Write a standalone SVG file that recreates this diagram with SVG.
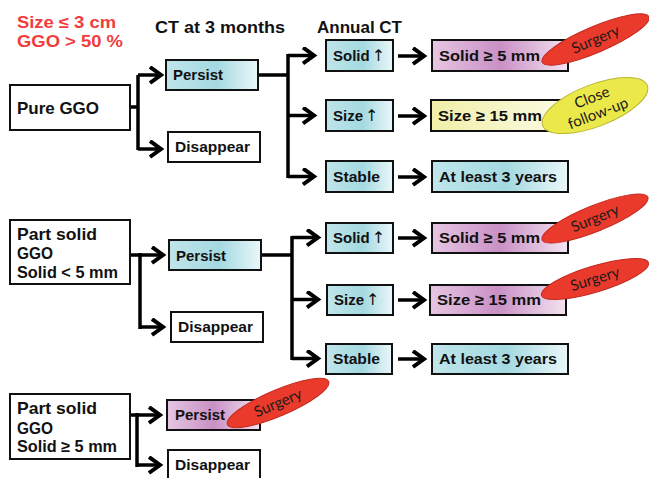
<svg xmlns="http://www.w3.org/2000/svg" width="649" height="478" viewBox="0 0 649 478">
<defs>
<linearGradient id="gc" x1="0" y1="0" x2="1" y2="0">
<stop offset="0" stop-color="#bfe5ea"/><stop offset="0.55" stop-color="#a4d9e1"/><stop offset="1" stop-color="#eaf7f9"/>
</linearGradient>
<linearGradient id="gp" x1="0" y1="0" x2="1" y2="0">
<stop offset="0" stop-color="#e6c6e2"/><stop offset="0.5" stop-color="#c990c5"/><stop offset="1" stop-color="#f3e2f0"/>
</linearGradient>
<linearGradient id="gy" x1="0" y1="0" x2="1" y2="0">
<stop offset="0" stop-color="#f1efa8"/><stop offset="1" stop-color="#fbfbe4"/>
</linearGradient>
<marker id="ah" markerUnits="userSpaceOnUse" markerWidth="20" markerHeight="20" refX="12" refY="9" orient="auto">
<path d="M1,1 L12,9 L1,17" fill="none" stroke="#000" stroke-width="4"/>
</marker>
<style>
.b{stroke:#111;stroke-width:2}
.w{fill:#fff}
.c{fill:url(#gc)}
.p{fill:url(#gp)}
.y{fill:url(#gy)}
.t{font-family:"Liberation Sans",Arial,sans-serif;font-weight:bold;font-size:15px;fill:#111}
.tl{font-size:17px}
.up{font-family:"DejaVu Sans",sans-serif;font-weight:normal;font-size:16px}
.h{font-family:"Liberation Sans",Arial,sans-serif;font-weight:bold;font-size:16px;fill:#111}
.r{fill:#f23b3b}
.ln{fill:none;stroke:#000;stroke-width:3.5}
.ar{fill:none;stroke:#000;stroke-width:3.5;marker-end:url(#ah)}
.es{fill:#ea3a2c;stroke:#c22a20;stroke-width:1}
.ey{fill:#ebe84a;stroke:#b9b52e;stroke-width:1}
.et{font-family:Lato,"Open Sans",sans-serif;font-size:15px;fill:#1a1a1a;text-anchor:middle}
</style>
</defs>

<g id="headers">
<text class="h r" x="17" y="28" textLength="99" lengthAdjust="spacingAndGlyphs">Size ≤ 3 cm</text>
<text class="h r" x="17" y="47" textLength="106" lengthAdjust="spacingAndGlyphs">GGO &gt; 50 %</text>
<text class="h" x="155" y="33" textLength="130" lengthAdjust="spacingAndGlyphs">CT at 3 months</text>
<text class="h" x="317" y="33" textLength="85" lengthAdjust="spacingAndGlyphs">Annual CT</text>
</g>

<g id="connectors">
<path class="ln" d="M130,107 H138 M138,75 V150 M258,75 H288 M288,54 V178"/>
<path class="ar" d="M138,75 H161"/>
<path class="ar" d="M138,149 H161"/>
<path class="ar" d="M288,55.5 H314"/>
<path class="ar" d="M288,115.5 H314"/>
<path class="ar" d="M288,176.5 H314"/>
<path class="ar" d="M398,56 H424"/>
<path class="ar" d="M398,116 H424"/>
<path class="ar" d="M398,177 H424"/>
<path class="ln" d="M130,255 H140 M140,253 V329 M261,255 H292 M292,236 V360"/>
<path class="ar" d="M140,255 H163"/>
<path class="ar" d="M140,327 H163"/>
<path class="ar" d="M292,237.5 H318"/>
<path class="ar" d="M292,299.5 H318"/>
<path class="ar" d="M292,358.5 H318"/>
<path class="ar" d="M398,238 H424"/>
<path class="ar" d="M398,300 H424"/>
<path class="ar" d="M398,359 H424"/>
<path class="ln" d="M130,415 H137 M137,413 V467"/>
<path class="ar" d="M137,415 H160"/>
<path class="ar" d="M137,465 H160"/>
</g>

<g id="pure-ggo"><rect class="b w" x="10" y="85" width="120" height="45"/><text class="t tl" x="17" y="114" textLength="82" lengthAdjust="spacingAndGlyphs">Pure GGO</text></g>
<g id="persist-1"><rect class="b c" x="166" y="60" width="92" height="30"/><text class="t" x="173" y="80" textLength="50" lengthAdjust="spacingAndGlyphs">Persist</text></g>
<g id="disappear-1"><rect class="b w" x="168" y="132" width="92" height="30"/><text class="t" x="175" y="152" textLength="75" lengthAdjust="spacingAndGlyphs">Disappear</text></g>
<g id="solid-up-1"><rect class="b c" x="326" y="40" width="67" height="31"/><text class="t" x="333" y="61">Solid<tspan class="up" dx="2">↑</tspan></text></g>
<g id="size-up-1"><rect class="b c" x="326" y="100" width="67" height="31"/><text class="t" x="333" y="121">Size<tspan class="up" dx="2">↑</tspan></text></g>
<g id="stable-1"><rect class="b c" x="326" y="161" width="67" height="31"/><text class="t" x="333" y="182" textLength="47" lengthAdjust="spacingAndGlyphs">Stable</text></g>
<g id="solid5-1"><rect class="b p" x="432" y="40" width="136" height="31"/><text class="t" x="439" y="61" textLength="101" lengthAdjust="spacingAndGlyphs">Solid ≥ 5 mm</text></g>
<g id="size15-1"><rect class="b y" x="431" y="100" width="136" height="31"/><text class="t" x="438" y="121" textLength="104" lengthAdjust="spacingAndGlyphs">Size ≥ 15 mm</text></g>
<g id="atleast-1"><rect class="b c" x="432" y="161" width="136" height="31"/><text class="t" x="439" y="182" textLength="118" lengthAdjust="spacingAndGlyphs">At least 3 years</text></g>
<g id="surgery-1"><ellipse class="es" cx="595.5" cy="39.5" rx="58" ry="13" transform="rotate(-23 595.5 39.5)"/><text class="et" x="595.5" y="44.5" transform="rotate(-23 595.5 39.5)">Surgery</text></g>
<g id="close-followup"><ellipse class="ey" cx="595" cy="105.5" rx="56" ry="21" transform="rotate(-21 595 105.5)"/><text class="et" x="595" y="102" transform="rotate(-21 595 105.5)">Close</text><text class="et" x="595" y="119" transform="rotate(-21 595 105.5)">follow-up</text></g>

<g id="part-solid-small"><rect class="b w" x="10" y="220" width="120" height="64"/><text class="t tl" x="17" y="240" textLength="80" lengthAdjust="spacingAndGlyphs">Part solid</text><text class="t tl" x="17" y="259" textLength="36" lengthAdjust="spacingAndGlyphs">GGO</text><text class="t" x="17" y="278" style="font-size:16px" textLength="101" lengthAdjust="spacingAndGlyphs">Solid &lt; 5 mm</text></g>
<g id="persist-2"><rect class="b c" x="169" y="240" width="92" height="30"/><text class="t" x="176" y="261" textLength="50" lengthAdjust="spacingAndGlyphs">Persist</text></g>
<g id="disappear-2"><rect class="b w" x="171" y="312" width="92" height="30"/><text class="t" x="178" y="332" textLength="75" lengthAdjust="spacingAndGlyphs">Disappear</text></g>
<g id="solid-up-2"><rect class="b c" x="326" y="223" width="67" height="30"/><text class="t" x="333" y="243">Solid<tspan class="up" dx="2">↑</tspan></text></g>
<g id="size-up-2"><rect class="b c" x="327" y="285" width="66" height="30"/><text class="t" x="334" y="305">Size<tspan class="up" dx="2">↑</tspan></text></g>
<g id="stable-2"><rect class="b c" x="326" y="344" width="66" height="30"/><text class="t" x="333" y="364" textLength="47" lengthAdjust="spacingAndGlyphs">Stable</text></g>
<g id="solid5-2"><rect class="b p" x="432" y="223" width="136" height="30"/><text class="t" x="439" y="243" textLength="101" lengthAdjust="spacingAndGlyphs">Solid ≥ 5 mm</text></g>
<g id="size15-2"><rect class="b p" x="430" y="285" width="136" height="30"/><text class="t" x="437" y="305" textLength="104" lengthAdjust="spacingAndGlyphs">Size ≥ 15 mm</text></g>
<g id="atleast-2"><rect class="b c" x="432" y="344" width="136" height="30"/><text class="t" x="439" y="364" textLength="118" lengthAdjust="spacingAndGlyphs">At least 3 years</text></g>
<g id="surgery-2"><ellipse class="es" cx="595" cy="218.5" rx="57" ry="13" transform="rotate(-22 595 218.5)"/><text class="et" x="595" y="223.5" transform="rotate(-22 595 218.5)">Surgery</text></g>
<g id="surgery-3"><ellipse class="es" cx="595" cy="279" rx="56" ry="13" transform="rotate(-17 595 279)"/><text class="et" x="595" y="284" transform="rotate(-17 595 279)">Surgery</text></g>

<g id="part-solid-large"><rect class="b w" x="10" y="394" width="120" height="65"/><text class="t tl" x="17" y="414" textLength="80" lengthAdjust="spacingAndGlyphs">Part solid</text><text class="t tl" x="17" y="434" textLength="36" lengthAdjust="spacingAndGlyphs">GGO</text><text class="t" x="17" y="452" style="font-size:16px" textLength="100" lengthAdjust="spacingAndGlyphs">Solid ≥ 5 mm</text></g>
<g id="persist-3"><rect class="b p" x="167" y="400" width="93" height="30"/><text class="t" x="175" y="420" textLength="50" lengthAdjust="spacingAndGlyphs">Persist</text></g>
<g id="disappear-3"><rect class="b w" x="168" y="450" width="92" height="32"/><text class="t" x="175" y="470" textLength="75" lengthAdjust="spacingAndGlyphs">Disappear</text></g>
<g id="surgery-4"><ellipse class="es" cx="278" cy="403" rx="55" ry="13" transform="rotate(-23 278 403)"/><text class="et" x="278" y="408" transform="rotate(-23 278 403)">Surgery</text></g>
</svg>
